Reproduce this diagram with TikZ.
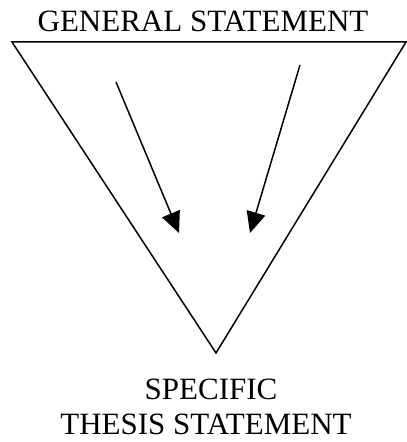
\documentclass[tikz,border=0pt]{standalone}
\usepackage{fontspec}
\setmainfont{Liberation Serif}
\usepackage{tikz}
\usetikzlibrary{positioning, arrows.meta}

\begin{document}
\begin{tikzpicture}[
      x=1pt, y=1pt,
      font=\fontsize{31}{37}\selectfont,
      edge/.style={line width=1.5pt, line join=miter},
      arr/.style={-{Triangle[length=21pt, width=19pt]}, line width=1.5pt},
      lbl/.style={anchor=base, inner sep=0pt},
    ]
    \useasboundingbox (0,0) rectangle (407,442);
    % ── funnel ──
    \coordinate (tl) at (12,400);
    \coordinate (tr) at (406,400);
    \coordinate (apex) at (216,89);
    \draw[edge] (tl) -- (tr) -- (apex) -- cycle;
    % ── arrows inward ──
    \coordinate (a1) at (116,360);
    \coordinate (b1) at (179,209);
    \coordinate (a2) at (300,377);
    \coordinate (b2) at (250,209);
    \draw[arr] (a1) -- (b1);
    \draw[arr] (a2) -- (b2);
    % ── texts ──
    \node[lbl] (general) at (203,410) {GENERAL STATEMENT};
    \node[lbl] (specific) at (211,42) {SPECIFIC};
    \node[lbl] (thesis) at (206,8) {THESIS STATEMENT};
  \end{tikzpicture}
\end{document}
